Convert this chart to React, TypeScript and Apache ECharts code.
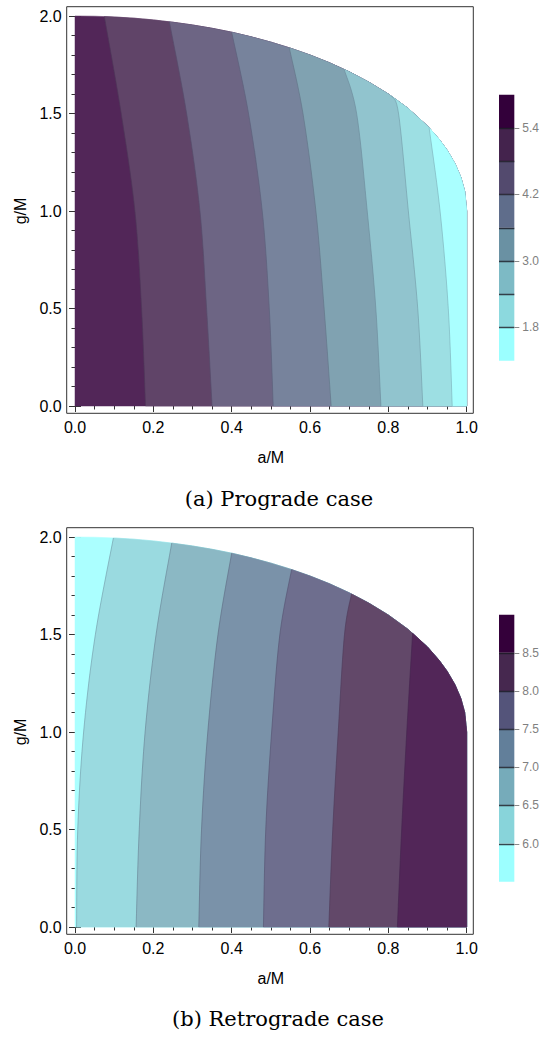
import { useEffect, useRef } from 'react';
import * as echarts from 'echarts';

// ---------------- data ----------------
// outer edge of the allowed (a/M, g/M) region
const edgeA = [0, 0.05, 0.1, 0.15, 0.2, 0.25, 0.3, 0.35, 0.4, 0.45, 0.5, 0.55, 0.6, 0.65, 0.7, 0.75, 0.8, 0.85, 0.9, 0.93, 0.95, 0.97, 0.985, 0.995, 1.0, 1.0];
const edgeG = [2.0, 1.999, 1.995, 1.989, 1.98, 1.968, 1.954, 1.937, 1.917, 1.893, 1.866, 1.835, 1.8, 1.76, 1.714, 1.661, 1.6, 1.527, 1.436, 1.367, 1.312, 1.243, 1.173, 1.1, 1.0, 0.0];

// (a) prograde: contour levels (left to right) and their traced lines
const proLevels = [5.4, 4.8, 4.2, 3.6, 3.0, 2.4, 1.8];
const proContourA = [
  [0.180, 0.170, 0.153, 0.118, 0.075],
  [0.350, 0.336, 0.319, 0.285, 0.241],
  [0.506, 0.496, 0.478, 0.443, 0.400],
  [0.654, 0.636, 0.615, 0.582, 0.547],
  [0.781, 0.768, 0.746, 0.719, 0.687],
  [0.888, 0.875, 0.851, 0.826, 0.807],
  [0.963, 0.953, 0.932, 0.904],
];
const proContourG = [
  [0, 0.5, 1.0, 1.5, 1.997],
  [0, 0.5, 1.0, 1.5, 1.970],
  [0, 0.5, 1.0, 1.5, 1.917],
  [0, 0.5, 1.0, 1.5, 1.837],
  [0, 0.5, 1.0, 1.5, 1.727],
  [0, 0.5, 1.0, 1.5, 1.590],
  [0, 0.5, 1.0, 1.428],
];
const proBarRange = [1.2, 6.0];
const proBarStep = 0.6;
const proBarLabels = [1.8, 3.0, 4.2, 5.4];
// colour of each band, low value -> high value
const proBarColors = ['#9BFFFF', '#8CD9DE', '#7DBAC5', '#6A91A3', '#5F6D8B', '#534A6E', '#44234D', '#33003A'];

// (b) retrograde
const retroLevels = [6.0, 6.5, 7.0, 7.5, 8.0, 8.5];
const retroContourA = [
  [0.004, 0.007, 0.022, 0.052, 0.098],
  [0.156, 0.164, 0.179, 0.207, 0.247],
  [0.316, 0.323, 0.339, 0.365, 0.400],
  [0.481, 0.487, 0.502, 0.523, 0.553],
  [0.648, 0.658, 0.672, 0.688, 0.706],
  [0.823, 0.834, 0.847, 0.862],
];
const retroContourG = [
  [0, 0.5, 1.0, 1.5, 1.995],
  [0, 0.5, 1.0, 1.5, 1.969],
  [0, 0.5, 1.0, 1.5, 1.917],
  [0, 0.5, 1.0, 1.5, 1.833],
  [0, 0.5, 1.0, 1.5, 1.708],
  [0, 0.5, 1.0, 1.507],
];
const retroBarRange = [5.5, 9.0];
const retroBarStep = 0.5;
const retroBarLabels = [6.0, 6.5, 7.0, 7.5, 8.0, 8.5];
const retroBarColors = ['#9CFFFF', '#88D4DA', '#76ABBA', '#627F9A', '#54547A', '#46284F', '#34003A'];

const captions = ['(a) Prograde case', '(b) Retrograde case'];

// ---------------- helpers ----------------
const SANS = '"Liberation Sans", Arial, sans-serif';
const SERIF = '"DejaVu Serif", serif';
const FRAME = '#333333';

function lighten(hex: string, t: number) {
  const n = parseInt(hex.slice(1), 16);
  const r = (n >> 16) & 255, g = (n >> 8) & 255, b = n & 255;
  const f = (c: number) => Math.round(c + (255 - c) * t);
  return `rgb(${f(r)},${f(g)},${f(b)})`;
}

// Catmull-Rom smoothing of a traced line, in pixel space (drawing only)
function smoothPx(pts: number[][]) {
  if (pts.length < 3) return pts;
  const out: number[][] = [];
  const n = pts.length;
  for (let i = 0; i < n - 1; i++) {
    const p0 = pts[Math.max(0, i - 1)];
    const p1 = pts[i];
    const p2 = pts[i + 1];
    const p3 = pts[Math.min(n - 1, i + 2)];
    const steps = 10;
    for (let s = 0; s < steps; s++) {
      const t = s / steps;
      const t2 = t * t, t3 = t2 * t;
      const c = (k: number) =>
        0.5 * (2 * p1[k] + (-p0[k] + p2[k]) * t + (2 * p0[k] - 5 * p1[k] + 4 * p2[k] - p3[k]) * t2 + (-p0[k] + 3 * p1[k] - 3 * p2[k] + p3[k]) * t3);
      out.push([c(0), c(1)]);
    }
  }
  out.push(pts[n - 1]);
  return out;
}

function bandSeries(axisIdx: number, contoursA: number[][], contoursG: number[][], fills: string[]) {
  return {
    type: 'custom',
    xAxisIndex: axisIdx * 2,
    yAxisIndex: axisIdx * 2,
    silent: true,
    clip: false,
    data: fills.map((_, i) => [0, 0, i]),
    renderItem: (params: any, api: any) => {
      const k = params.dataIndex;
      let pts: number[][] = [];
      let line: number[][] | null = null;
      if (k === 0) {
        pts.push(api.coord([0, 0]));
        edgeA.forEach((a, j) => pts.push(api.coord([a, edgeG[j]])));
      } else {
        const ca = contoursA[k - 1];
        const cg = contoursG[k - 1];
        line = smoothPx(ca.map((a, j) => api.coord([a, cg[j]])));
        pts = line.slice();
        const topA = ca[ca.length - 1];
        edgeA.forEach((a, j) => {
          if (a > topA + 1e-9) pts.push(api.coord([a, edgeG[j]]));
        });
      }
      const fill = lighten(fills[k], 0.15);
      const children: any[] = [
        {
          type: 'polygon',
          shape: { points: pts },
          style: { fill, stroke: fill, lineWidth: 0.5 },
        },
      ];
      if (line) {
        children.push({
          type: 'polyline',
          shape: { points: line },
          style: { stroke: 'rgba(40,30,60,0.28)', lineWidth: 0.8, fill: 'none' },
        });
      }
      return { type: 'group', children };
    },
  };
}

function barSeries(axisIdx: number, range: number[], step: number, colors: string[]) {
  return {
    type: 'custom',
    xAxisIndex: axisIdx,
    yAxisIndex: axisIdx,
    silent: true,
    clip: false,
    data: colors.map((_, i) => [0, 0, i]),
    renderItem: (params: any, api: any) => {
      const i = params.dataIndex;
      const lo = range[0] + step * i;
      const hi = lo + step;
      const p0 = api.coord([0, hi]);
      const p1 = api.coord([1, lo]);
      return {
        type: 'rect',
        shape: { x: p0[0], y: p0[1], width: p1[0] - p0[0], height: p1[1] - p0[1] },
        style: { fill: colors[i] },
      };
    },
  };
}

function barLineSeries(axisIdx: number, levels: number[], labels: number[]) {
  return {
    type: 'custom',
    xAxisIndex: axisIdx,
    yAxisIndex: axisIdx,
    silent: true,
    clip: false,
    z: 3,
    data: levels.map((v) => [0, v]),
    renderItem: (params: any, api: any) => {
      const v = levels[params.dataIndex];
      const p0 = api.coord([0, v]);
      const p1 = api.coord([1, v]);
      const y = Math.round(p0[1]) + 0.5;
      const children: any[] = [
        { type: 'line', shape: { x1: p0[0], y1: y, x2: p1[0], y2: y }, style: { stroke: 'rgba(25,25,35,0.8)', lineWidth: 1.5 } },
      ];
      if (labels.some((l) => Math.abs(l - v) < 1e-6)) {
        children.push({ type: 'line', shape: { x1: p1[0], y1: y, x2: p1[0] + 5, y2: y }, style: { stroke: '#8a8a8a', lineWidth: 1 } });
      }
      return { type: 'group', children };
    },
  };
}

const plotGrids = [
  { top: 16, height: 390, frameTop: 6.7, frameBottom: 413.3 },
  { top: 537, height: 390, frameTop: 527.7, frameBottom: 934.3 },
];
const GRID_LEFT = 75;
const GRID_W = 391.7;
const FRAME_L = 66.7;
const FRAME_R = 473.3;

function plotAxes(p: number) {
  const g = plotGrids[p];
  const tick = { show: true, inside: true, length: 6, lineStyle: { color: FRAME, width: 1 } };
  const label = { fontSize: 16, color: '#000', fontFamily: SANS };
  const xBottom = {
    type: 'value', gridIndex: p, position: 'bottom', min: 0, max: 1, interval: 0.2,
    offset: g.frameBottom - (g.top + g.height),
    axisLine: { show: false }, axisTick: tick,
    minorTick: { show: true, splitNumber: 4, length: 3.5, lineStyle: { color: FRAME, width: 1 } },
    splitLine: { show: false },
    axisLabel: { ...label, margin: 6, formatter: (v: number) => v.toFixed(1) },
    name: 'a/M', nameLocation: 'middle', nameGap: 36,
    nameTextStyle: { fontSize: 16, color: '#000', fontFamily: SANS },
  };
  const xTop = {
    ...xBottom, position: 'top', offset: g.top - g.frameTop,
    axisLabel: { show: false }, name: '',
  };
  const yLeft = {
    type: 'value', gridIndex: p, position: 'left', min: 0, max: 2, interval: 0.5,
    offset: GRID_LEFT - FRAME_L,
    axisLine: { show: false }, axisTick: tick,
    minorTick: { show: true, splitNumber: 5, length: 3.5, lineStyle: { color: FRAME, width: 1 } },
    splitLine: { show: false },
    axisLabel: { ...label, margin: 5, formatter: (v: number) => v.toFixed(1) },
    name: 'g/M', nameLocation: 'middle', nameGap: 37,
    nameTextStyle: { fontSize: 16, color: '#000', fontFamily: SANS },
  };
  const yRight = {
    ...yLeft, position: 'right', offset: FRAME_R - (GRID_LEFT + GRID_W),
    axisLabel: { show: false }, name: '',
  };
  return { x: [xBottom, xTop], y: [yLeft, yRight] };
}

function barAxes(gridIndex: number, range: number[], step: number, labels: number[]) {
  return {
    x: { type: 'value', gridIndex, min: 0, max: 1, show: false },
    y: {
      type: 'value', gridIndex, position: 'right', min: range[0], max: range[1], interval: step,
      axisLine: { show: false }, axisTick: { show: false }, splitLine: { show: false },
      axisLabel: {
        margin: 8, fontSize: 12, color: '#808080', fontFamily: SANS,
        formatter: (v: number) => (labels.some((l) => Math.abs(l - v) < 1e-6) ? v.toFixed(1) : ''),
      },
    },
  };
}

export default function App() {
  const ref = useRef<HTMLDivElement>(null);
  useEffect(() => {
    if (!ref.current) return;
    const chart = echarts.init(ref.current, undefined, { renderer: 'svg' });
    const a0 = plotAxes(0);
    const a1 = plotAxes(1);
    const b0 = barAxes(2, proBarRange, proBarStep, proBarLabels);
    const b1 = barAxes(3, retroBarRange, retroBarStep, retroBarLabels);
    const proFills = [...proBarColors].reverse();
    const retroFills = retroBarColors;

    const option: any = {
      animation: false,
      backgroundColor: '#ffffff',
      grid: [
        { left: GRID_LEFT, width: GRID_W, top: plotGrids[0].top, height: plotGrids[0].height },
        { left: GRID_LEFT, width: GRID_W, top: plotGrids[1].top, height: plotGrids[1].height },
        { left: 499, width: 18, top: 94.7, height: 266 },
        { left: 499, width: 18, top: 614.7, height: 267 },
      ],
      xAxis: [...a0.x, ...a1.x, b0.x, b1.x],
      yAxis: [...a0.y, ...a1.y, b0.y, b1.y],
      series: [
        bandSeries(0, proContourA, proContourG, proFills),
        bandSeries(1, retroContourA, retroContourG, retroFills),
        barSeries(4, proBarRange, proBarStep, proBarColors),
        barSeries(5, retroBarRange, retroBarStep, retroBarColors),
        barLineSeries(4, proLevels.slice().sort((x, y) => x - y), proBarLabels),
        barLineSeries(5, retroLevels, retroBarLabels),
      ],
      graphic: [
        ...plotGrids.map((g) => ({
          type: 'rect', z: 10, silent: true,
          shape: { x: FRAME_L, y: g.frameTop, width: FRAME_R - FRAME_L, height: g.frameBottom - g.frameTop },
          style: { fill: 'none', stroke: FRAME, lineWidth: 1 },
        })),
        {
          type: 'text', x: 279, y: 498.7, silent: true,
          style: { text: captions[0], font: `21px ${SERIF}`, fill: '#000', align: 'center', verticalAlign: 'middle' },
        },
        {
          type: 'text', x: 278, y: 1018.7, silent: true,
          style: { text: captions[1], font: `21px ${SERIF}`, fill: '#000', align: 'center', verticalAlign: 'middle' },
        },
      ],
    };
    chart.setOption(option);
    return () => chart.dispose();
  }, []);
  return <div ref={ref} style={{ position: 'fixed', left: 0, top: 0, width: 542, height: 1037 }} />;
}
